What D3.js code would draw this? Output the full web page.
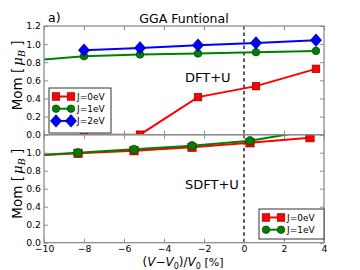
<!DOCTYPE html>
<html>
<head>
<meta charset="utf-8">
<script src="https://cdn.jsdelivr.net/npm/d3@7"></script>
<style>
  body { margin: 0; background: #fff; }
  svg text { font-family: "DejaVu Sans", sans-serif; }
</style>
</head>
<body>
<div id="chart"></div>
<script>
// x ticks shared by both panels
var xTicks = [-10, -8, -6, -4, -2, 0, 2, 4];
var yTicksTop = [0, 0.2, 0.4, 0.6, 0.8, 1.0, 1.2];
var yTicksBot = [0, 0.2, 0.4, 0.6, 0.8, 1.0];

// top panel: DFT+U
var volTop = [-8.0, -5.2, -2.3, 0.6, 3.6];
var volTopJ1 = [-11.0, -8.0, -5.2, -2.3, 0.6, 3.6];
var momTopJ0 = [0.0, 0.0, 0.415, 0.536, 0.727];
var momTopJ1 = [0.81, 0.867, 0.885, 0.896, 0.911, 0.925];
var momTopJ2 = [0.933, 0.958, 0.988, 1.013, 1.043];

// bottom panel: SDFT+U
var volBot = [-11.0, -8.3, -5.5, -2.6, 0.3, 3.3];
var momBotJ0 = [0.965, 0.993, 1.022, 1.06, 1.11, 1.167];
var momBotJ1 = [0.965, 1.0, 1.037, 1.078, 1.133, 1.245];

var W = 360, H = 270;
var left = 44, right = 324;

var svg = d3.select("#chart").append("svg")
  .attr("width", W)
  .attr("height", H);

var x = d3.scaleLinear().domain([-10, 4]).range([left, right]);

var panels = [
  { top: 26, bottom: 134.7, ticks: yTicksTop, showX: false, label: "DFT+U", id: "cTop",
    series: [
      { xs: volTop, ys: momTopJ0, color: "#ff0000", edge: "#7a0000", shape: "square", name: "J=0eV" },
      { xs: volTopJ1, ys: momTopJ1, color: "#008000", edge: "#003000", shape: "circle", name: "J=1eV" },
      { xs: volTop, ys: momTopJ2, color: "#0000ff", edge: "#00006a", shape: "diamond", name: "J=2eV" }
    ],
    legend: { x: 49, y: 88, w: 62, h: 45 } },
  { top: 134.7, bottom: 242.7, ticks: yTicksBot, showX: true, label: "SDFT+U", id: "cBot",
    series: [
      { xs: volBot, ys: momBotJ0, color: "#ff0000", edge: "#7a0000", shape: "square", name: "J=0eV" },
      { xs: volBot, ys: momBotJ1, color: "#008000", edge: "#003000", shape: "circle", name: "J=1eV" }
    ],
    legend: { x: 259, y: 209, w: 65, h: 30 } }
];

function drawMarker(g, shape, cx, cy, color, edge, big) {
  if (shape == "square") {
    var s = big ? 8.4 : 7.6;
    g.append("rect")
      .attr("x", cx - s / 2).attr("y", cy - s / 2)
      .attr("width", s).attr("height", s)
      .attr("fill", color).attr("stroke", edge).attr("stroke-width", 0.6);
  } else if (shape == "circle") {
    g.append("circle")
      .attr("cx", cx).attr("cy", cy).attr("r", big ? 4.2 : 3.8)
      .attr("fill", color).attr("stroke", edge).attr("stroke-width", 0.6);
  } else {
    var hw = 5.6, hh = 6.4;
    g.append("path")
      .attr("d", "M" + cx + "," + (cy - hh) + "L" + (cx + hw) + "," + cy +
                 "L" + cx + "," + (cy + hh) + "L" + (cx - hw) + "," + cy + "Z")
      .attr("fill", color).attr("stroke", edge).attr("stroke-width", 0.6);
  }
}

panels.forEach(function (p) {
  var y = d3.scaleLinear().domain([0, 1.2]).range([p.bottom, p.top]);

  svg.append("clipPath").attr("id", p.id)
    .append("rect")
    .attr("x", left).attr("y", p.top)
    .attr("width", right - left).attr("height", p.bottom - p.top);

  var plot = svg.append("g").attr("clip-path", "url(#" + p.id + ")");

  // dashed line at V = V0
  plot.append("line")
    .attr("x1", x(0)).attr("x2", x(0))
    .attr("y1", p.top).attr("y2", p.bottom)
    .attr("stroke", "#000").attr("stroke-width", 1.3)
    .attr("stroke-dasharray", "3.5,3");

  var line = d3.line()
    .x(function (d) { return x(d[0]); })
    .y(function (d) { return y(d[1]); });

  p.series.forEach(function (s) {
    var pts = s.xs.map(function (v, i) { return [v, s.ys[i]]; });
    plot.append("path")
      .datum(pts)
      .attr("d", line)
      .attr("fill", "none")
      .attr("stroke", s.color)
      .attr("stroke-width", 2);
    pts.forEach(function (d) {
      drawMarker(plot, s.shape, x(d[0]), y(d[1]), s.color, s.edge, p.showX);
    });
  });

  // frame
  svg.append("rect")
    .attr("x", left).attr("y", p.top)
    .attr("width", right - left).attr("height", p.bottom - p.top)
    .attr("fill", "none").attr("stroke", "#8c8c8c").attr("stroke-width", 1.3);

  // ticks inside on all four sides
  var axL = svg.append("g").attr("transform", "translate(" + left + ",0)")
    .call(d3.axisLeft(y).tickValues(p.ticks).tickSize(-4).tickPadding(3)
      .tickFormat(d3.format(".1f")));
  var axR = svg.append("g").attr("transform", "translate(" + right + ",0)")
    .call(d3.axisRight(y).tickValues(p.ticks).tickSize(-4).tickFormat(""));
  var axT = svg.append("g").attr("transform", "translate(0," + p.top + ")")
    .call(d3.axisTop(x).tickValues(xTicks).tickSize(-4).tickFormat(""));
  var axB = svg.append("g").attr("transform", "translate(0," + p.bottom + ")")
    .call(d3.axisBottom(x).tickValues(xTicks).tickSize(-4).tickPadding(3)
      .tickFormat(p.showX ? function (d) { return d < 0 ? "\u2212" + (-d) : d; } : ""));

  [axL, axR, axT, axB].forEach(function (a) {
    a.select(".domain").remove();
    a.selectAll(".tick line").attr("stroke", "#8c8c8c").attr("stroke-width", 1);
    a.selectAll("text").attr("font-family", "DejaVu Sans").attr("font-size", 9.3).attr("fill", "#000");
  });

  // panel label
  svg.append("text")
    .attr("x", 185).attr("y", p.top + (p.showX ? 54 : 56))
    .attr("font-size", 13)
    .text(p.label);

  // y label
  var yl = svg.append("text")
    .attr("transform", "translate(22," + ((p.top + p.bottom) / 2 - 5) + ")rotate(-90)")
    .attr("text-anchor", "middle")
    .attr("font-size", 13.5);
  yl.append("tspan").text("Mom [");
  yl.append("tspan").attr("font-family", "DejaVu Serif").attr("font-style", "italic").attr("dx", 2).text("\u03bc");
  yl.append("tspan").attr("font-family", "DejaVu Serif").attr("font-style", "italic")
    .attr("font-size", 9.5).attr("dy", 2.5).text("B");
  yl.append("tspan").attr("dy", -2.5).text(" ]");

  // legend
  var lg = svg.append("g");
  lg.append("rect")
    .attr("x", p.legend.x).attr("y", p.legend.y)
    .attr("width", p.legend.w).attr("height", p.legend.h)
    .attr("fill", "#fff").attr("stroke", "#333").attr("stroke-width", 1);
  p.series.forEach(function (s, i) {
    var ly = p.legend.y + 8.5 + i * 12.2;
    var lx = p.legend.x + 3;
    lg.append("line")
      .attr("x1", lx + 4).attr("x2", lx + 19)
      .attr("y1", ly).attr("y2", ly)
      .attr("stroke", s.color).attr("stroke-width", 2);
    drawMarker(lg, s.shape, lx + 4, ly, s.color, s.edge, false);
    drawMarker(lg, s.shape, lx + 19, ly, s.color, s.edge, false);
    lg.append("text")
      .attr("x", lx + 25).attr("y", ly + 3.3)
      .attr("font-size", 9)
      .text(s.name);
  });
});

// title and panel tag
svg.append("text")
  .attr("x", 184).attr("y", 22.5)
  .attr("text-anchor", "middle")
  .attr("font-size", 12.5)
  .text("GGA Funtional");
svg.append("text")
  .attr("x", 48).attr("y", 22)
  .attr("font-size", 12.5)
  .text("a)");

// x label
var xl = svg.append("text")
  .attr("x", 183).attr("y", 266)
  .attr("text-anchor", "middle")
  .attr("font-family", "Liberation Serif")
  .attr("font-size", 12);
xl.append("tspan").text("(");
xl.append("tspan").attr("font-style", "italic").text("V");
xl.append("tspan").text("\u2212");
xl.append("tspan").attr("font-style", "italic").text("V");
xl.append("tspan").attr("font-size", 8).attr("dy", 2.5).text("0");
xl.append("tspan").attr("dy", -2.5).text(")/");
xl.append("tspan").attr("font-style", "italic").text("V");
xl.append("tspan").attr("font-size", 8).attr("dy", 2.5).text("0");
xl.append("tspan").attr("dy", -2.5).attr("font-family", "DejaVu Sans").attr("font-size", 11).text(" [%]");
</script>
</body>
</html>
